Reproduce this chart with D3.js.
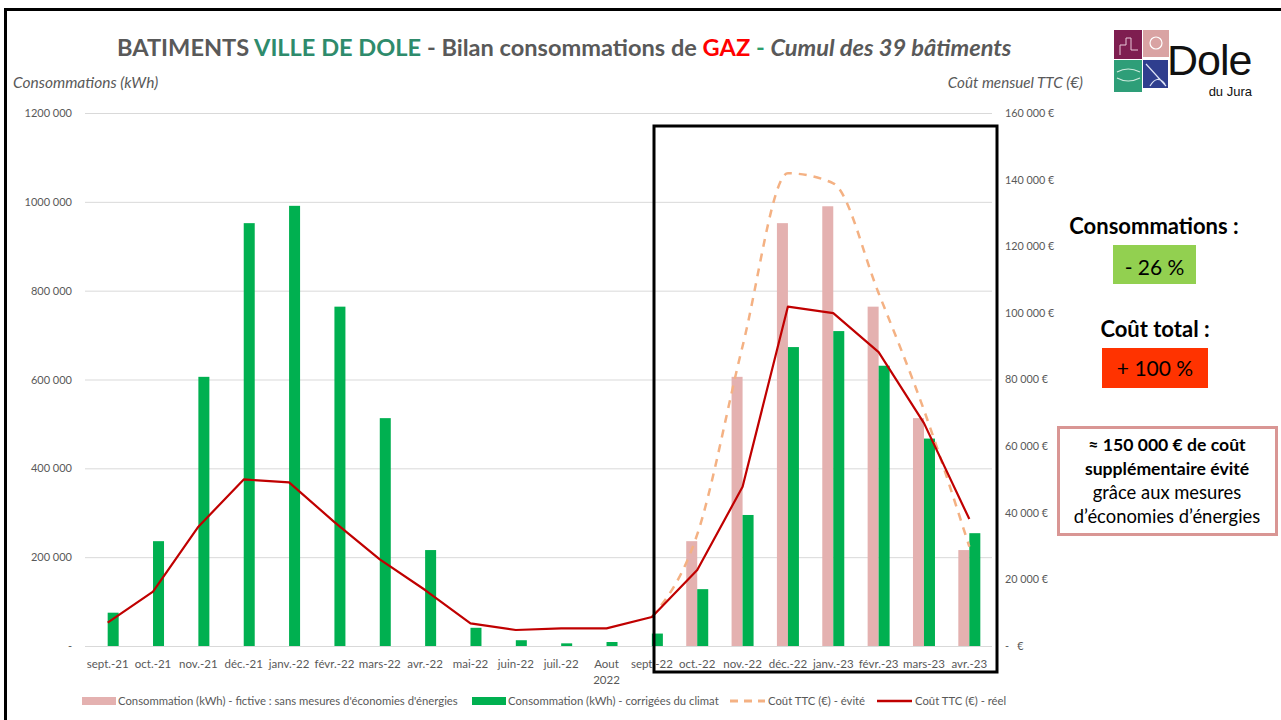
<!DOCTYPE html>
<html><head><meta charset="utf-8">
<script src="https://cdn.jsdelivr.net/npm/d3@7/dist/d3.min.js"></script>
<style>
html,body{margin:0;padding:0;background:#fff;}
svg{display:block;font-family:Lato,"Open Sans",sans-serif;}
</style></head>
<body>
<svg id="c" width="1281" height="720"></svg>
<script>
// ---------- DATA ----------
const months = ["sept.-21","oct.-21","nov.-21","déc.-21","janv.-22","févr.-22","mars-22","avr.-22","mai-22","juin-22","juil.-22","Aout 2022","sept.-22","oct.-22","nov.-22","déc.-22","janv.-23","févr.-23","mars-23","avr.-23"];
const consoFictive = [null,null,null,null,null,null,null,null,null,null,null,null,null,236000,606000,952000,990000,764000,513000,216000];
const consoCorrigee = [75000,236000,606000,952000,991000,764000,513000,216000,41000,13000,6000,9000,28000,128000,295000,673000,709000,631000,467000,254000];
const coutEvite = [null,null,null,null,null,null,null,null,null,null,null,null,8700,33500,90000,141900,138900,105900,70800,29800];
const coutReel = [7000,16300,35800,50000,49100,37200,26000,16800,6800,4800,5300,5300,8700,22800,47800,101900,99900,88200,66900,38100];
const leftTicks = [0,200000,400000,600000,800000,1000000,1200000];
const leftTickLabels = ["-","200 000","400 000","600 000","800 000","1000 000","1200 000"];
const rightTicks = [0,20000,40000,60000,80000,100000,120000,140000,160000];
const rightTickLabels = ["-\u00A0\u00A0\u00A0€","20 000 €","40 000 €","60 000 €","80 000 €","100 000 €","120 000 €","140 000 €","160 000 €"];
const legendLabels = ["Consommation (kWh) - fictive : sans mesures d'économies d'énergies","Consommation (kWh) - corrigées du climat","Coût TTC (€) - évité","Coût TTC (€) - réel"];

// ---------- LAYOUT ----------
const svg = d3.select("#c");
const L = 85, R = 992, T = 113, B = 646;
const col = {pink:"#E4B1B0", green:"#00B050", red:"#C00000", orange:"#F4B183", grid:"#D9D9D9", txt:"#595959"};

const x = d3.scaleBand().domain(months).range([L, R]).padding(0);
const barW = 11;
const x1 = d3.scaleBand().domain(["f","c"]).range([x.bandwidth()/2 - barW, x.bandwidth()/2 + barW]);
const yL = d3.scaleLinear().domain([0,1200000]).range([B, T]);
const yR = d3.scaleLinear().domain([0,160000]).range([B, T]);

// frame
svg.append("rect").attr("x",5.5).attr("y",9.5).attr("width",1290).attr("height",720).attr("fill","none").attr("stroke","#000").attr("stroke-width",3);

// gridlines
svg.append("g").selectAll("line").data(leftTicks).join("line")
  .attr("x1",L).attr("x2",R).attr("y1",d=>yL(d)+0.5).attr("y2",d=>yL(d)+0.5)
  .attr("stroke",col.grid).attr("stroke-width",1);

// left axis
const gL = svg.append("g").attr("transform",`translate(${L},0)`)
  .call(d3.axisLeft(yL).tickValues(leftTicks).tickFormat((d,i)=>leftTickLabels[i]).tickSize(0).tickPadding(13));
gL.select(".domain").remove();
gL.selectAll("text").attr("fill",col.txt).style("font-size","11px").style("font-family","Lato");

// right axis
const gR = svg.append("g").attr("transform",`translate(${R},0)`)
  .call(d3.axisRight(yR).tickValues(rightTicks).tickFormat((d,i)=>rightTickLabels[i]).tickSize(0).tickPadding(13));
gR.select(".domain").remove();
gR.selectAll("text").attr("fill",col.txt).style("font-size","10.8px").style("font-family","Lato");

// x axis labels
const gX = svg.append("g").attr("transform",`translate(0,${B})`)
  .call(d3.axisBottom(x).tickSize(0).tickPadding(14));
gX.select(".domain").remove();
gX.selectAll("text").attr("fill",col.txt).style("font-size","11.5px").style("font-family","Lato")
  .each(function(d){
    if (d === "Aout 2022") {
      const t = d3.select(this); t.text(null);
      t.append("tspan").attr("x",0).attr("dy","0.71em").text("Aout");
      t.append("tspan").attr("x",0).attr("dy","1.4em").text("2022");
      t.attr("dy",null);
    }
  });

// bars
const gBars = svg.append("g");
gBars.selectAll("rect.f").data(months.map((m,i)=>({m,v:consoFictive[i]})).filter(d=>d.v!=null)).join("rect")
  .attr("class","f").attr("x",d=>x(d.m)+x1("f")).attr("width",x1.bandwidth())
  .attr("y",d=>yL(d.v)).attr("height",d=>yL(0)-yL(d.v)).attr("fill",col.pink);
gBars.selectAll("rect.c").data(months.map((m,i)=>({m,v:consoCorrigee[i]}))).join("rect")
  .attr("class","c").attr("x",d=>x(d.m)+x1("c")).attr("width",x1.bandwidth())
  .attr("y",d=>yL(d.v)).attr("height",d=>yL(0)-yL(d.v)).attr("fill",col.green);

// lines
const cx = m => x(m) + x.bandwidth()/2;
const lineE = d3.line().defined(d=>d.v!=null).x(d=>cx(d.m)).y(d=>yR(d.v)).curve(d3.curveMonotoneX);
svg.append("path").datum(months.map((m,i)=>({m,v:coutEvite[i]})))
  .attr("d",lineE).attr("fill","none").attr("stroke",col.orange).attr("stroke-width",2.5).attr("stroke-dasharray","8,7");
const lineR = d3.line().x(d=>cx(d.m)).y(d=>yR(d.v));
svg.append("path").datum(months.map((m,i)=>({m,v:coutReel[i]})))
  .attr("d",lineR).attr("fill","none").attr("stroke",col.red).attr("stroke-width",2.2).attr("stroke-linejoin","round");

// highlight box
svg.append("rect").attr("x",654).attr("y",126).attr("width",343).attr("height",546)
  .attr("fill","none").attr("stroke","#000").attr("stroke-width",3);

// title
const title = svg.append("text").attr("x",117).attr("y",56).style("font-weight","bold").style("font-size","21px").style("font-family","Lato");
[["BATIMENTS ",col.txt,"normal"],["VILLE DE DOLE","#2E8B6C","normal"],[" - Bilan consommations de ",col.txt,"normal"],["GAZ","#FF0000","normal"],[" - ","#2E9E6C","normal"],["Cumul des 39 bâtiments",col.txt,"italic"]]
  .forEach(([t,c,s])=>title.append("tspan").attr("fill",c).style("font-style",s).text(t));
const tw = title.node().getComputedTextLength();
title.style("font-size",(21*895/tw)+"px");

// axis titles
svg.append("text").attr("x",13).attr("y",88).attr("fill",col.txt).style("font-style","italic").style("font-size","15.5px").style("font-family","Lato").text("Consommations (kWh)");
svg.append("text").attr("x",1083).attr("y",88).attr("text-anchor","end").attr("fill",col.txt).style("font-style","italic").style("font-size","15.2px").style("font-family","Lato").text("Coût mensuel TTC (€)");

// legend
const lg = svg.append("g").style("font-size","11.3px").style("font-family","Lato");
const legItems = [
  {x:82, type:"rect", c:col.pink},
  {x:472, type:"rect", c:col.green},
  {x:730, type:"dash", c:col.orange},
  {x:877, type:"line", c:col.red}
];
legItems.forEach((it,i)=>{
  if (it.type==="rect") lg.append("rect").attr("x",it.x).attr("y",697).attr("width",34).attr("height",8).attr("fill",it.c);
  else lg.append("line").attr("x1",it.x).attr("x2",it.x+35).attr("y1",701).attr("y2",701).attr("stroke",it.c)
    .attr("stroke-width", it.type==="dash"?3:2.5).attr("stroke-dasharray", it.type==="dash"?"8,6":null);
  lg.append("text").attr("x",it.x+(it.type==="rect"?36:38)).attr("y",705).attr("fill",col.txt).text(legendLabels[i]);
});

// right annotations
const ann = svg.append("g").style("font-family","Lato");
ann.append("text").attr("x",1154).attr("y",234).attr("text-anchor","middle").style("font-weight","bold").style("font-size","22px").attr("fill","#000").text("Consommations :");
ann.append("rect").attr("x",1113).attr("y",245).attr("width",83).attr("height",39).attr("fill","#92D050");
ann.append("text").attr("x",1154.5).attr("y",275).attr("text-anchor","middle").style("font-size","21px").attr("fill","#000").text("- 26 %");
ann.append("text").attr("x",1155).attr("y",337).attr("text-anchor","middle").style("font-weight","bold").style("font-size","22px").attr("fill","#000").text("Coût total :");
ann.append("rect").attr("x",1102).attr("y",348).attr("width",106).attr("height",40).attr("fill","#FF3300");
ann.append("text").attr("x",1155).attr("y",376).attr("text-anchor","middle").style("font-size","21px").attr("fill","#000").text("+ 100 %");
ann.append("rect").attr("x",1058.5).attr("y",427.5).attr("width",218).attr("height",107).attr("fill","#fff").attr("stroke","#D99694").attr("stroke-width",3);
[["≈ 150 000 € de coût","bold",451,17.6],["supplémentaire évité","bold",475,17.6],["grâce aux mesures","normal",499,18.4],["d’économies d’énergies","normal",523,18.4]]
  .forEach(([t,w,y,s])=>ann.append("text").attr("x",1167).attr("y",y).attr("text-anchor","middle").style("font-weight",w).style("font-size",s+"px").attr("fill","#000").text(t));

// logo
const lgo = svg.append("g");
lgo.append("rect").attr("x",1114).attr("y",30).attr("width",28).attr("height",29).attr("fill","#7E1E50");
lgo.append("rect").attr("x",1143).attr("y",30).attr("width",26).attr("height",27).attr("fill","#D9A3A3");
lgo.append("rect").attr("x",1114).attr("y",60).attr("width",28).attr("height",32).attr("fill","#2E9E78");
lgo.append("rect").attr("x",1143).attr("y",60).attr("width",25).attr("height",28).attr("fill","#2F3E8E");
lgo.append("path").attr("d","M1120,55 L1120,45 L1126,45 L1126,38 L1131,38 L1131,50 L1138,50").attr("fill","none").attr("stroke","#E8C8D8").attr("stroke-width",1);
lgo.append("circle").attr("cx",1156).attr("cy",43).attr("r",6).attr("fill","none").attr("stroke","#fff").attr("stroke-width",1.2);
lgo.append("path").attr("d","M1117,72 Q1128,66 1140,72 M1117,78 Q1128,84 1140,78").attr("fill","none").attr("stroke","#CDEBDD").attr("stroke-width",1.2);
lgo.append("path").attr("d","M1146,64 L1166,86 M1150,86 Q1157,74 1165,84").attr("fill","none").attr("stroke","#DDE3F5").attr("stroke-width",1.2);
lgo.append("text").attr("x",1167).attr("y",75).style("font-family","Liberation Sans, Arial, sans-serif").style("font-size","43px").attr("fill","#111").attr("letter-spacing","-1").text("Dole");
lgo.append("text").attr("x",1252).attr("y",96).attr("text-anchor","end").style("font-family","Liberation Sans, Arial, sans-serif").style("font-size","13px").attr("fill","#111").text("du Jura");
</script>
</body></html>
